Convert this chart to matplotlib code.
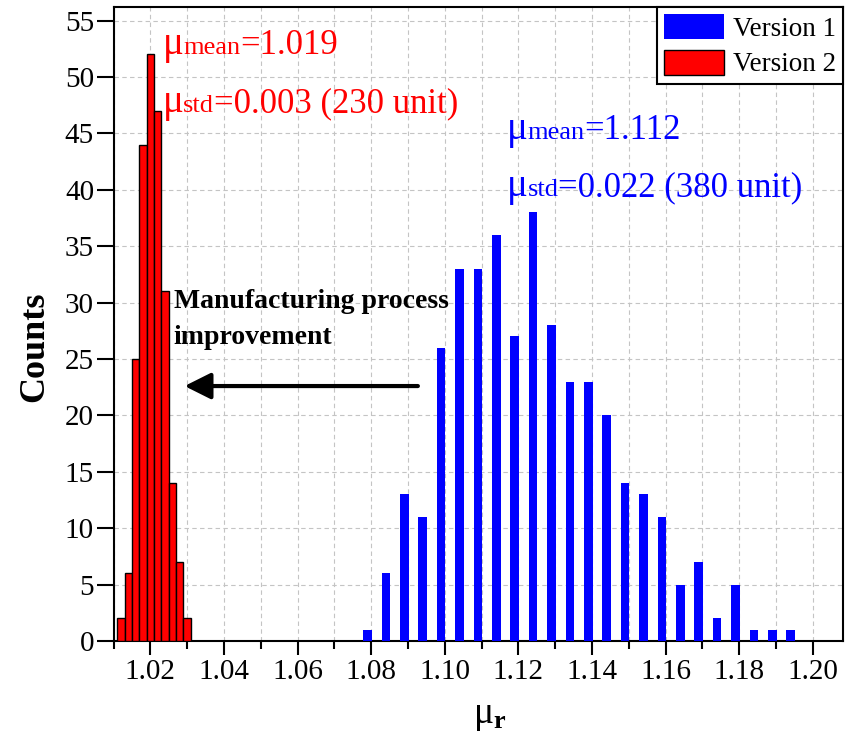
import matplotlib
matplotlib.use("Agg")
import matplotlib.pyplot as plt
from matplotlib.ticker import MultipleLocator

plt.rcParams['font.family'] = ['Liberation Serif', 'DejaVu Serif']
plt.rcParams['mathtext.fontset'] = 'custom'
plt.rcParams['mathtext.rm'] = 'Liberation Serif'
plt.rcParams['mathtext.it'] = 'Liberation Serif:italic'
plt.rcParams['mathtext.bf'] = 'Liberation Serif:bold'

# Version 1 (blue): bin centres and counts
v1_x = [1.079, 1.084, 1.089, 1.094, 1.099, 1.104, 1.109, 1.114, 1.119, 1.124,
        1.129, 1.134, 1.139, 1.144, 1.149, 1.154, 1.159, 1.164, 1.169, 1.174,
        1.179, 1.184, 1.189, 1.194]
v1_counts = [1, 6, 13, 11, 26, 33, 33, 36, 27, 38,
             28, 23, 23, 20, 14, 13, 11, 5, 7, 2,
             5, 1, 1, 1]

# Version 2 (red): bin centres and counts
v2_x = [1.012, 1.014, 1.016, 1.018, 1.020, 1.022, 1.024, 1.026, 1.028, 1.030]
v2_counts = [2, 6, 25, 44, 52, 47, 31, 14, 7, 2]

x_ticks = [1.02, 1.04, 1.06, 1.08, 1.10, 1.12, 1.14, 1.16, 1.18, 1.20]
x_tick_labels = ["1.02", "1.04", "1.06", "1.08", "1.10", "1.12", "1.14", "1.16", "1.18", "1.20"]
y_ticks = [0, 5, 10, 15, 20, 25, 30, 35, 40, 45, 50, 55]

fig = plt.figure(figsize=(8.56, 7.42), dpi=100)
ax = fig.add_axes([0.1326, 0.1361, 0.8522, 0.8545])

ax.bar(v1_x, v1_counts, width=0.00236, color='#0000ff', linewidth=0,
       label='Version 1', zorder=3)
ax.bar(v2_x, v2_counts, width=0.002, color='#ff0000', edgecolor='black',
       linewidth=1.0, label='Version 2', zorder=3)

ax.set_xlim(1.01, 1.2082)
ax.set_ylim(0, 56.2)
ax.set_xticks(x_ticks)
ax.set_xticklabels(x_tick_labels)
ax.xaxis.set_minor_locator(MultipleLocator(0.01))
ax.set_yticks(y_ticks)

ax.grid(True, which='both', axis='x', color='#c4c4c4', linestyle=(0, (4, 3)), linewidth=0.8, zorder=0)
ax.grid(True, which='major', axis='y', color='#c4c4c4', linestyle=(0, (4, 3)), linewidth=0.8, zorder=0)

for s in ax.spines.values():
    s.set_linewidth(1.5)
ax.tick_params(axis='both', which='major', direction='out', length=10, width=1.5,
               labelsize=21, pad=3)
ax.tick_params(axis='x', which='minor', direction='out', length=6, width=1.5)
ax.tick_params(axis='y', which='major', length=12, pad=2)

ax.set_xlabel(r'$\mathrm{μ}_{\mathbf{r}}$', fontsize=27)
ax.xaxis.set_label_coords(0.516, -0.09)
ax.set_ylabel('Counts', fontsize=26, fontweight='bold')
ax.yaxis.set_label_coords(-0.085, 0.464)

leg = ax.legend(loc='upper right', borderaxespad=0, fancybox=False, framealpha=1,
                edgecolor='black', fontsize=19.5, handlelength=2.2, handleheight=1.05,
                borderpad=0.25, labelspacing=0.3, handletextpad=0.35)
leg.get_frame().set_linewidth(1.5)


def mu_text(x, y, sub, rest, color):
    t1 = ax.text(x, y, 'μ', fontsize=28, color=color, va='baseline', zorder=5)
    t2 = ax.annotate(sub, xy=(1, y), xycoords=(t1, 'data'), fontsize=19,
                     color=color, va='baseline', zorder=5)
    ax.annotate(rest, xy=(1, y), xycoords=(t2, 'data'), fontsize=25,
                color=color, va='baseline', zorder=5)


mu_text(1.0233, 52.0, 'mean', '=1.019', 'red')
mu_text(1.0233, 46.9, 'std', '=0.003 (230 unit)', 'red')
mu_text(1.1168, 44.5, 'mean', '=1.112', 'blue')
mu_text(1.1168, 39.45, 'std', '=0.022 (380 unit)', 'blue')

# multi-line text: baseline refers to the last line
ax.text(1.0264, 26.3, 'Manufacturing process\nimprovement', fontsize=20,
        fontweight='bold', color='black', va='baseline', linespacing=1.6, zorder=5)

ax.annotate('', xy=(1.0293, 22.6), xytext=(1.0927, 22.6),
            arrowprops=dict(arrowstyle='-|>', color='black', lw=3, mutation_scale=40,
                            shrinkA=0, shrinkB=0), zorder=5)

fig.savefig('out.png', dpi=100)
